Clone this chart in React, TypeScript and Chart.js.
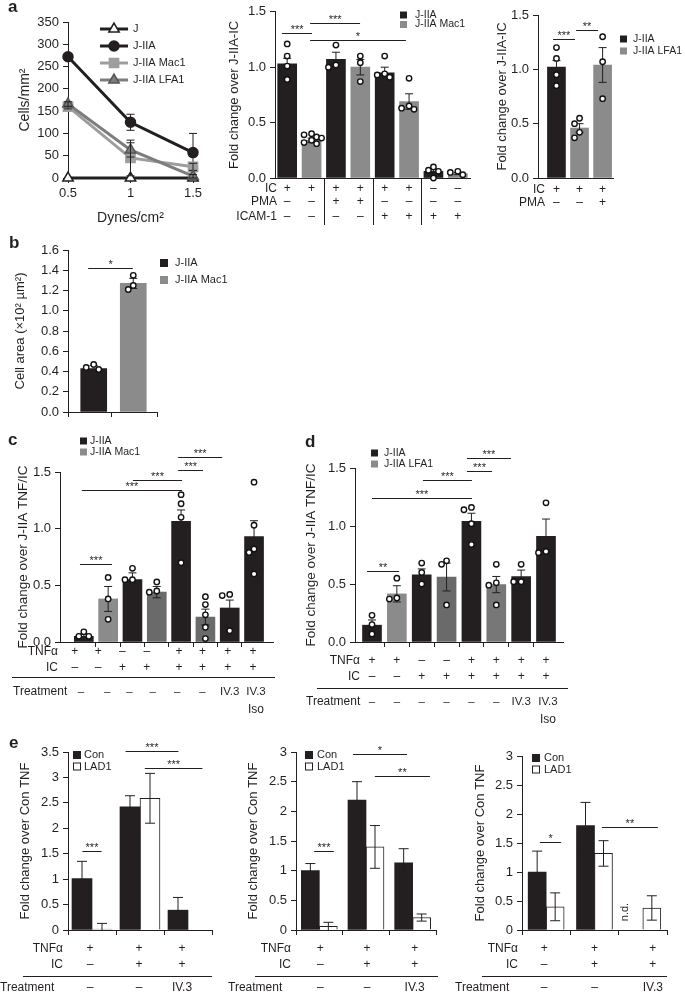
import { useEffect, useRef } from 'react';
import { Chart, registerables } from 'chart.js';

Chart.register(...registerables);

const PAGE_W = 685;
const PAGE_H = 995;
const FONT = "'Liberation Sans', Arial, Helvetica, sans-serif";
const INK = '#231f20';
const BLACK = '#231f20';
const GRAY = '#8b8b8b';
const MIDGRAY = '#777777';
const DARKGRAY = '#6a6a6a';
const LINE_MAC1 = '#9e9e9e';
const LINE_LFA1 = '#7d7d7d';

Chart.defaults.font.family = FONT;
Chart.defaults.color = INK;

/* ================= DATA ================= */

// ---- a (left): adhesion vs shear stress ----
const aShear = [0.5, 1, 1.5];
const aJ = [0, 0, 0];
const aJErr = [0, 0, 0];
const aJIIA = [272, 125, 57];
const aJIIAErr = [4, 18, 43];
const aMac1 = [160, 45, 25];
const aMac1Err = [5, 40, 8];
const aLFA1 = [166, 63, 4];
const aLFA1Err = [5, 16, 4];
const aYTicks = [0, 50, 100, 150, 200, 250, 300, 350];

// ---- a (middle): Mac1 ----
const a2Cells = ['J-IIA', 'J-IIA Mac1', 'J-IIA', 'J-IIA Mac1', 'J-IIA', 'J-IIA Mac1', 'J-IIA', 'J-IIA Mac1'];
const a2Mean = [1.03, 0.34, 1.07, 1.0, 0.95, 0.69, 0.06, 0.04];
const a2Sem = [0.05, 0.02, 0.065, 0.07, 0.05, 0.07, 0.02, 0.01];
const a2Dots = [
  [1.21, 1.1, 1.01, 0.89],
  [0.4, 0.39, 0.37, 0.36, 0.34, 0.32, 0.31],
  [1.2, 1.02, 1.0],
  [1.1, 1.04, 0.87],
  [1.1, 0.94, 0.93, 0.91],
  [0.9, 0.65, 0.63, 0.62],
  [0.1, 0.07, 0.06, 0.0],
  [0.06, 0.05, 0.03],
];
const a2IC = ['+', '+', '+', '+', '+', '+', '–', '–'];
const a2PMA = ['–', '–', '+', '+', '–', '–', '–', '–'];
const a2ICAM = ['–', '–', '–', '–', '+', '+', '+', '+'];
const a2Sig = [
  { from: -0.21, to: 1.02, y: 1.31, label: '***' },
  { from: 0.94, to: 2.99, y: 1.4, label: '***' },
  { from: 0.94, to: 4.87, y: 1.245, label: '*' },
];

// ---- a (right): LFA1 ----
const a3Cells = ['J-IIA', 'J-IIA LFA1', 'J-IIA LFA1'];
const a3Mean = [1.02, 0.46, 1.04];
const a3Sem = [0.06, 0.04, 0.16];
const a3Dots = [
  [1.2, 1.1, 0.95, 0.85],
  [0.55, 0.5, 0.42, 0.37],
  [1.3, 1.07, 0.73],
];
const a3IC = ['+', '+', '+'];
const a3PMA = ['–', '–', '+'];
const a3Sig = [
  { from: -0.15, to: 0.8, y: 1.28, label: '***' },
  { from: 0.85, to: 1.8, y: 1.36, label: '**' },
];

// ---- b: cell area ----
const bCells = ['J-IIA', 'J-IIA Mac1'];
const bMean = [0.43, 1.27];
const bSem = [0.03, 0.05];
const bDots = [
  [0.47, 0.44, 0.42],
  [1.35, 1.25, 1.21],
];
const bSig = [{ from: -0.14, to: 0.99, y: 1.42, label: '*' }];

// ---- c: Mac1 TNF ----
const cMean = [0.05, 0.38, 0.55, 0.44, 1.065, 0.22, 0.3, 0.93];
const cSem = [0.02, 0.11, 0.06, 0.05, 0.1, 0.07, 0.07, 0.14];
const cDots = [
  [0.09, 0.05, 0.05],
  [0.57, 0.38, 0.2],
  [0.65, 0.55, 0.55],
  [0.53, 0.45, 0.44],
  [1.3, 1.22, 1.1, 0.7],
  [0.4, 0.33, 0.24, 0.13, 0.03],
  [0.42, 0.41, 0.1],
  [1.41, 1.03, 0.82, 0.79, 0.6],
];
const cSig = [
  { from: -0.16, to: 1.16, y: 0.685, label: '***' },
  { from: -0.08, to: 4.04, y: 1.345, label: '***' },
  { from: 2.02, to: 4.04, y: 1.43, label: '***' },
  { from: 3.88, to: 4.9, y: 1.515, label: '***' },
  { from: 3.88, to: 5.69, y: 1.63, label: '***' },
];

// ---- d: LFA1 TNF ----
const dMean = [0.145, 0.415, 0.58, 0.56, 1.04, 0.495, 0.565, 0.91];
const dSem = [0.045, 0.07, 0.05, 0.12, 0.07, 0.07, 0.055, 0.15];
const dDots = [
  [0.23, 0.15, 0.07],
  [0.55, 0.38, 0.37],
  [0.68, 0.6, 0.5],
  [0.7, 0.67, 0.32],
  [1.16, 1.14, 1.02, 0.84],
  [0.67, 0.51, 0.49, 0.32],
  [0.67, 0.52, 0.52],
  [1.2, 0.78, 0.77],
];
const dSig = [
  { from: -0.2, to: 1.09, y: 0.612, label: '**' },
  { from: 0.0, to: 4.02, y: 1.244, label: '***' },
  { from: 2.05, to: 4.02, y: 1.394, label: '***' },
  { from: 3.82, to: 4.83, y: 1.474, label: '***' },
  { from: 3.82, to: 5.59, y: 1.59, label: '***' },
];
const cdTNF = ['+', '+', '–', '–', '+', '+', '+', '+'];
const cdIC = ['–', '–', '+', '+', '+', '+', '+', '+'];
const cdTreatment = ['–', '–', '–', '–', '–', '–', 'IV.3', 'IV.3'];
const cdTreatment2 = ['', '', '', '', '', '', '', 'Iso'];

// ---- e: Con vs LAD1 ----
const e1Con = [1.01, 2.42, 0.39];
const e1ConErr = [0.34, 0.22, 0.25];
const e1LAD = [0.02, 2.59, null];
const e1LADErr = [0.11, 0.49, null];
const e1Sig = [
  { from: -0.2, to: 0.2, y: 1.56, label: '***' },
  { from: 0.7, to: 1.8, y: 3.51, label: '***' },
  { from: 1.1, to: 2.3, y: 3.19, label: '***' },
];
const e2Con = [1.0, 2.19, 1.13];
const e2ConErr = [0.12, 0.31, 0.24];
const e2LAD = [0.06, 1.4, 0.21];
const e2LADErr = [0.07, 0.36, 0.06];
const e2Sig = [
  { from: -0.11, to: 0.31, y: 1.335, label: '***' },
  { from: 0.72, to: 1.88, y: 2.97, label: '*' },
  { from: 1.19, to: 2.37, y: 2.59, label: '**' },
];
const e3Con = [1.0, 1.8, null];
const e3ConErr = [0.36, 0.4, null];
const e3LAD = [0.4, 1.32, 0.38];
const e3LADErr = [0.24, 0.22, 0.21];
const e3Sig = [
  { from: -0.13, to: 0.31, y: 1.51, label: '*' },
  { from: 1.155, to: 2.31, y: 1.78, label: '**' },
];
const eTNF = ['+', '+', '+'];
const eIC = ['–', '+', '+'];
const eTreatment = ['–', '–', 'IV.3'];

/* ================= HELPERS ================= */

type Sig = { from: number; to: number; y: number; label: string };
type Row = { label?: string; labelX?: number; labelAlign?: CanvasTextAlign; y: number; values: string[]; dx?: number[]; valueFont?: number };
type LegendEntry = { label: string; fill: string; stroke?: string };
type Legend = { x: number; y: number; dy: number; size: number; textX: number; font: number; items: LegendEntry[] };
type Txt = { text: string; x: number; y: number; font: string; align?: CanvasTextAlign; baseline?: CanvasTextBaseline; rotate?: number };
type LineLegendEntry = { label: string; color: string; style: string; fill: string; stroke: string; r: number };
type LineLegend = { x1: number; x2: number; y: number; dy: number; textX: number; font: number; items: LineLegendEntry[] };
type Overlay = {
  sig?: Sig[];
  sigFont?: number;
  rows?: Row[];
  rowFont?: number;
  legend?: Legend;
  lineLegend?: LineLegend;
  texts?: Txt[];
  hlines?: number[][];
  vseps?: number[][];
  capW?: number;
};

type Frame = { l: number; t: number; r: number; b: number; yTitleX: number; xTitleY?: number; titleSize: number };

function frameLayout(f: Frame) {
  const lh = f.titleSize * 1.2;
  const left = f.yTitleX - lh / 2;
  const bottom = f.xTitleY != null ? f.xTitleY + lh / 2 : f.b + 8;
  return {
    padding: { left, top: f.t, right: PAGE_W - f.r, bottom: PAGE_H - bottom },
    yWidth: f.l - left,
    xHeight: bottom - f.b,
  };
}

function markerPath(ctx: CanvasRenderingContext2D, style: string, x: number, y: number, r: number) {
  ctx.beginPath();
  if (style === 'circle') {
    ctx.arc(x, y, r, 0, Math.PI * 2);
  } else if (style === 'rect') {
    const s = r * Math.SQRT1_2;
    ctx.rect(x - s, y - s, 2 * s, 2 * s);
  } else {
    let a = 0;
    ctx.moveTo(x + Math.sin(a) * r, y - Math.cos(a) * r);
    a += (Math.PI * 2) / 3;
    ctx.lineTo(x + Math.sin(a) * r, y - Math.cos(a) * r);
    a += (Math.PI * 2) / 3;
    ctx.lineTo(x + Math.sin(a) * r, y - Math.cos(a) * r);
    ctx.closePath();
  }
}

function overlayPlugin(o: Overlay) {
  return {
    id: 'figOverlay',
    afterDatasetDraw(chart: any, args: any) {
      const ds = chart.data.datasets[args.index];
      if (!ds || !ds.err) return;
      const ys = chart.scales.y;
      const ctx: CanvasRenderingContext2D = chart.ctx;
      const half = (o.capW ?? 8) / 2;
      ctx.save();
      ctx.strokeStyle = INK;
      ctx.lineWidth = 1;
      args.meta.data.forEach((el: any, i: number) => {
        const d = ds.data[i];
        const v = d == null ? null : typeof d === 'object' ? d.y : d;
        const e = ds.err[i];
        if (v == null || e == null || e === 0 || !Number.isFinite(el.x)) return;
        const yTop = ys.getPixelForValue(v + e);
        const lowV = v - e;
        const clamped = lowV < ys.min;
        const yBot = ys.getPixelForValue(clamped ? ys.min : lowV);
        ctx.beginPath();
        ctx.moveTo(el.x, yTop);
        ctx.lineTo(el.x, yBot);
        ctx.moveTo(el.x - half, yTop);
        ctx.lineTo(el.x + half, yTop);
        if (!clamped) {
          ctx.moveTo(el.x - half, yBot);
          ctx.lineTo(el.x + half, yBot);
        }
        ctx.stroke();
      });
      ctx.restore();
    },
    afterDraw(chart: any) {
      const ctx: CanvasRenderingContext2D = chart.ctx;
      const xs = chart.scales.x;
      const ys = chart.scales.y;
      ctx.save();
      ctx.strokeStyle = INK;
      ctx.fillStyle = INK;
      ctx.lineWidth = 1;
      // significance bars
      for (const s of o.sig ?? []) {
        const x1 = xs.getPixelForValue(s.from);
        const x2 = xs.getPixelForValue(s.to);
        const y = Math.round(ys.getPixelForValue(s.y)) + 0.5;
        ctx.beginPath();
        ctx.moveTo(x1, y);
        ctx.lineTo(x2, y);
        ctx.stroke();
        ctx.font = `${o.sigFont ?? 11}px ${FONT}`;
        ctx.textAlign = 'center';
        ctx.textBaseline = 'alphabetic';
        ctx.fillText(s.label, (x1 + x2) / 2, y - 1);
      }
      // horizontal rules (pixels)
      for (const h of o.hlines ?? []) {
        ctx.beginPath();
        ctx.moveTo(h[0], h[2] + 0.5);
        ctx.lineTo(h[1], h[2] + 0.5);
        ctx.stroke();
      }
      // vertical separators (data x, pixel y range)
      for (const v of o.vseps ?? []) {
        const x = Math.round(xs.getPixelForValue(v[0])) + 0.5;
        ctx.beginPath();
        ctx.moveTo(x, v[1]);
        ctx.lineTo(x, v[2]);
        ctx.stroke();
      }
      // condition rows
      for (const r of o.rows ?? []) {
        ctx.textBaseline = 'middle';
        if (r.label) {
          ctx.font = `${o.rowFont ?? 12}px ${FONT}`;
          ctx.textAlign = r.labelAlign ?? 'right';
          ctx.fillText(r.label, r.labelX ?? 0, r.y);
        }
        ctx.font = `${r.valueFont ?? o.rowFont ?? 12}px ${FONT}`;
        ctx.textAlign = 'center';
        r.values.forEach((val, i) => {
          if (val) ctx.fillText(val, xs.getPixelForValue(i) + (r.dx ? r.dx[i] ?? 0 : 0), r.y);
        });
      }
      // box legend
      if (o.legend) {
        const L = o.legend;
        ctx.font = `${L.font}px ${FONT}`;
        ctx.textAlign = 'left';
        ctx.textBaseline = 'middle';
        L.items.forEach((it, i) => {
          const cy = L.y + i * L.dy;
          ctx.fillStyle = it.fill;
          ctx.fillRect(L.x, cy - L.size / 2, L.size, L.size);
          if (it.stroke) {
            ctx.strokeStyle = it.stroke;
            ctx.strokeRect(L.x + 0.5, cy - L.size / 2 + 0.5, L.size - 1, L.size - 1);
          }
          ctx.fillStyle = INK;
          ctx.fillText(it.label, L.textX, cy);
        });
      }
      // line legend
      if (o.lineLegend) {
        const L = o.lineLegend;
        ctx.font = `${L.font}px ${FONT}`;
        ctx.textAlign = 'left';
        ctx.textBaseline = 'middle';
        L.items.forEach((it, i) => {
          const cy = L.y + i * L.dy;
          ctx.strokeStyle = it.color;
          ctx.lineWidth = 3;
          ctx.beginPath();
          ctx.moveTo(L.x1, cy);
          ctx.lineTo(L.x2, cy);
          ctx.stroke();
          markerPath(ctx, it.style, (L.x1 + L.x2) / 2, cy, it.r);
          ctx.fillStyle = it.fill;
          ctx.fill();
          ctx.lineWidth = 1.5;
          ctx.strokeStyle = it.stroke;
          ctx.stroke();
          ctx.fillStyle = INK;
          ctx.fillText(it.label, L.textX, cy);
        });
      }
      // free texts
      for (const t of o.texts ?? []) {
        ctx.save();
        ctx.font = t.font;
        ctx.fillStyle = INK;
        ctx.textAlign = t.align ?? 'left';
        ctx.textBaseline = t.baseline ?? 'alphabetic';
        ctx.translate(t.x, t.y);
        if (t.rotate) ctx.rotate(t.rotate);
        ctx.fillText(t.text, 0, 0);
        ctx.restore();
      }
      ctx.restore();
    },
  };
}

function swarm(groups: number[][], pxX: number, pxY: number) {
  const out: { x: number; y: number }[] = [];
  const cands = [0, -5, 5, -2.5, 2.5, -7.5, 7.5, -10, 10];
  groups.forEach((vals, gi) => {
    const placed: { px: number; py: number }[] = [];
    [...vals]
      .sort((a, b) => b - a)
      .forEach((v) => {
        const py = v * pxY;
        let chosen = cands[cands.length - 1];
        for (const c of cands) {
          if (placed.every((p) => Math.hypot(p.px - c, p.py - py) >= 6)) {
            chosen = c;
            break;
          }
        }
        placed.push({ px: chosen, py });
        out.push({ x: gi + chosen / pxX, y: v });
      });
  });
  return out;
}

function range(max: number, step: number) {
  const out: number[] = [];
  for (let v = 0; v <= max + 1e-9; v += step) out.push(Math.round(v * 1000) / 1000);
  return out;
}

type Panel = {
  frame: Frame;
  xMin: number;
  xMax: number;
  xTicks: number[];
  xLabels?: (v: number) => string;
  xTitle?: string;
  yMax: number;
  yTicks: number[];
  yFmt: (v: number) => string;
  yTitle: string;
  tickFont: number;
};

function chartOptions(p: Panel) {
  const L = frameLayout(p.frame);
  const tickGrid = { display: true, offset: false, drawOnChartArea: false, drawTicks: true, tickLength: 5, color: INK, lineWidth: 1 };
  return {
    responsive: false,
    animation: false,
    events: [],
    layout: { padding: L.padding, autoPadding: false },
    plugins: { legend: { display: false }, tooltip: { enabled: false }, title: { display: false } },
    scales: {
      x: {
        type: 'linear',
        offset: false,
        min: p.xMin,
        max: p.xMax,
        afterBuildTicks: (s: any) => {
          s.ticks = p.xTicks.map((v) => ({ value: v }));
        },
        afterFit: (s: any) => {
          s.height = L.xHeight;
        },
        ticks: {
          callback: (v: any) => (p.xLabels ? p.xLabels(Number(v)) : ''),
          font: { size: p.tickFont },
          color: INK,
          padding: 3,
          maxRotation: 0,
          autoSkip: false,
        },
        grid: tickGrid,
        border: { display: true, color: INK, width: 1 },
        title: p.xTitle
          ? { display: true, text: p.xTitle, font: { size: p.frame.titleSize }, color: INK, padding: 0 }
          : { display: false },
      },
      y: {
        type: 'linear',
        offset: false,
        min: 0,
        max: p.yMax,
        afterBuildTicks: (s: any) => {
          s.ticks = p.yTicks.map((v) => ({ value: v }));
        },
        afterFit: (s: any) => {
          s.width = L.yWidth;
        },
        ticks: { callback: (v: any) => p.yFmt(Number(v)), font: { size: p.tickFont }, color: INK, padding: 4, autoSkip: false },
        grid: tickGrid,
        border: { display: true, color: INK, width: 1 },
        title: { display: true, text: p.yTitle, font: { size: p.frame.titleSize }, color: INK, padding: 0 },
      },
    },
  };
}

function dotDataset(groups: number[][], p: Panel) {
  const pxX = (p.frame.r - p.frame.l) / (p.xMax - p.xMin);
  const pxY = (p.frame.b - p.frame.t) / p.yMax;
  return {
    type: 'scatter',
    order: 0,
    data: swarm(groups, pxX, pxY),
    pointRadius: 2.7,
    pointBorderWidth: 1.4,
    pointBackgroundColor: '#ffffff',
    pointBorderColor: '#111111',
    clip: false,
  };
}

function barsFromMeans(mean: number[], sem: number[], colors: string[], thickness: number) {
  return {
    type: 'bar',
    order: 1,
    data: mean.map((v, i) => ({ x: i, y: v })),
    err: sem,
    backgroundColor: colors,
    borderWidth: 0,
    barThickness: thickness,
    clip: false,
  };
}

const cellColor = (c: string) => (c === 'J-IIA' ? BLACK : GRAY);
const fix1 = (v: number) => v.toFixed(1);
const plain = (v: number) => String(Math.round(v * 100) / 100);
const letter = (t: string, x: number, y: number): Txt => ({ text: t, x, y, font: `bold 17px ${FONT}` });

/* ================= CHART BUILDERS ================= */

function buildA1(canvas: HTMLCanvasElement) {
  const p: Panel = {
    frame: { l: 68, t: 22, r: 193, b: 178, yTitleX: 25, xTitleY: 218, titleSize: 14 },
    xMin: 0.5,
    xMax: 1.5,
    xTicks: aShear,
    xLabels: (v) => String(v),
    xTitle: 'Dynes/cm²',
    yMax: 350,
    yTicks: aYTicks,
    yFmt: (v) => String(v),
    yTitle: 'Cells/mm²',
    tickFont: 13,
  };
  const line = (label: string, ys: number[], err: number[], color: string, style: string, fill: string, stroke: string, r: number) => ({
    label,
    data: ys.map((y, i) => ({ x: aShear[i], y })),
    err,
    borderColor: color,
    borderWidth: 3,
    pointStyle: style,
    pointRadius: r,
    pointBackgroundColor: fill,
    pointBorderColor: stroke,
    pointBorderWidth: 1.5,
    tension: 0,
    clip: false,
  });
  const overlay: Overlay = {
    capW: 8,
    lineLegend: {
      x1: 100,
      x2: 128,
      y: 29,
      dy: 17,
      textX: 133,
      font: 11,
      items: [
        { label: 'J', color: BLACK, style: 'triangle', fill: '#ffffff', stroke: BLACK, r: 6 },
        { label: 'J-IIA', color: BLACK, style: 'circle', fill: BLACK, stroke: BLACK, r: 5 },
        { label: 'J-IIA Mac1', color: LINE_MAC1, style: 'rect', fill: LINE_MAC1, stroke: LINE_MAC1, r: 6.5 },
        { label: 'J-IIA LFA1', color: LINE_LFA1, style: 'triangle', fill: LINE_LFA1, stroke: '#555555', r: 6 },
      ],
    },
    texts: [letter('a', 8, 12)],
  };
  return new Chart(canvas, {
    type: 'line',
    data: {
      datasets: [
        line('J-IIA LFA1', aLFA1, aLFA1Err, LINE_LFA1, 'triangle', LINE_LFA1, '#555555', 6),
        line('J-IIA Mac1', aMac1, aMac1Err, LINE_MAC1, 'rect', LINE_MAC1, LINE_MAC1, 6.5),
        line('J-IIA', aJIIA, aJIIAErr, BLACK, 'circle', BLACK, BLACK, 5),
        line('J', aJ, aJErr, BLACK, 'triangle', '#ffffff', BLACK, 6),
      ] as any,
    },
    options: chartOptions(p) as any,
    plugins: [overlayPlugin(overlay)],
  });
}

function buildA2(canvas: HTMLCanvasElement) {
  const p: Panel = {
    frame: { l: 275, t: 11, r: 470, b: 178, yTitleX: 234, titleSize: 13 },
    xMin: -0.5,
    xMax: 7.5,
    xTicks: [],
    yMax: 1.5,
    yTicks: range(1.5, 0.5),
    yFmt: fix1,
    yTitle: 'Fold change over J-IIA-IC',
    tickFont: 13,
  };
  const overlay: Overlay = {
    sig: a2Sig,
    rows: [
      { label: 'IC', labelX: 277, y: 189, values: a2IC },
      { label: 'PMA', labelX: 277, y: 202, values: a2PMA },
      { label: 'ICAM-1', labelX: 277, y: 217, values: a2ICAM },
    ],
    vseps: [
      [1.5, 178, 225],
      [3.5, 178, 225],
      [5.5, 178, 225],
    ],
    legend: {
      x: 400,
      y: 15,
      dy: 9.5,
      size: 7,
      textX: 415,
      font: 10.5,
      items: [
        { label: 'J-IIA', fill: BLACK },
        { label: 'J-IIA Mac1', fill: GRAY },
      ],
    },
  };
  return new Chart(canvas, {
    type: 'bar',
    data: { datasets: [dotDataset(a2Dots, p), barsFromMeans(a2Mean, a2Sem, a2Cells.map(cellColor), 19)] as any },
    options: chartOptions(p) as any,
    plugins: [overlayPlugin(overlay)],
  });
}

function buildA3(canvas: HTMLCanvasElement) {
  const p: Panel = {
    frame: { l: 538, t: 15, r: 613, b: 178, yTitleX: 502, titleSize: 13 },
    xMin: -0.8,
    xMax: 2.45,
    xTicks: [],
    yMax: 1.5,
    yTicks: range(1.5, 0.5),
    yFmt: fix1,
    yTitle: 'Fold change over J-IIA-IC',
    tickFont: 13,
  };
  const overlay: Overlay = {
    sig: a3Sig,
    rows: [
      { label: 'IC', labelX: 545, y: 190, values: a3IC },
      { label: 'PMA', labelX: 545, y: 203, values: a3PMA },
    ],
    legend: {
      x: 620,
      y: 39,
      dy: 12,
      size: 7,
      textX: 633,
      font: 10.5,
      items: [
        { label: 'J-IIA', fill: BLACK },
        { label: 'J-IIA LFA1', fill: GRAY },
      ],
    },
  };
  return new Chart(canvas, {
    type: 'bar',
    data: { datasets: [dotDataset(a3Dots, p), barsFromMeans(a3Mean, a3Sem, a3Cells.map(cellColor), 18)] as any },
    options: chartOptions(p) as any,
    plugins: [overlayPlugin(overlay)],
  });
}

function buildB(canvas: HTMLCanvasElement) {
  const p: Panel = {
    frame: { l: 68, t: 250, r: 157, b: 412, yTitleX: 20, titleSize: 13 },
    xMin: -0.65,
    xMax: 1.6,
    xTicks: [-0.65, 0.45, 1.6],
    yMax: 1.6,
    yTicks: range(1.6, 0.2),
    yFmt: fix1,
    yTitle: 'Cell area (×10² µm²)',
    tickFont: 13,
  };
  const overlay: Overlay = {
    sig: bSig,
    legend: {
      x: 160,
      y: 263,
      dy: 17,
      size: 8,
      textX: 175,
      font: 11,
      items: [
        { label: 'J-IIA', fill: BLACK },
        { label: 'J-IIA Mac1', fill: GRAY },
      ],
    },
    texts: [letter('b', 9, 248)],
  };
  return new Chart(canvas, {
    type: 'bar',
    data: { datasets: [dotDataset(bDots, p), barsFromMeans(bMean, bSem, bCells.map(cellColor), 26)] as any },
    options: chartOptions(p) as any,
    plugins: [overlayPlugin(overlay)],
  });
}

type CDRows = {
  tnfY: number;
  icY: number;
  trY: number;
  isoY: number;
  labelRight: number;
  trX: number;
  rule: number[];
  symDx: number[];
  trDx: number[];
};

function buildCD(
  canvas: HTMLCanvasElement,
  frame: Frame,
  xMin: number,
  xMax: number,
  mean: number[],
  sem: number[],
  dots: number[][],
  sig: Sig[],
  shades: string[],
  partner: string,
  rowsLayout: CDRows,
  legendAt: { x: number; y: number; textX: number },
  panelLetter: Txt
) {
  const p: Panel = {
    frame,
    xMin,
    xMax,
    xTicks: [0.5, 1.5, 2.5, 3.5, 4.5, 5.5, 6.5],
    yMax: 1.5,
    yTicks: range(1.5, 0.5),
    yFmt: fix1,
    yTitle: 'Fold change over J-IIA TNF/IC',
    tickFont: 13,
  };
  const overlay: Overlay = {
    sig,
    sigFont: 11,
    rows: [
      { label: 'TNFα', labelX: rowsLayout.labelRight, y: rowsLayout.tnfY, values: cdTNF, dx: rowsLayout.symDx },
      { label: 'IC', labelX: rowsLayout.labelRight, y: rowsLayout.icY, values: cdIC, dx: rowsLayout.symDx },
      {
        label: 'Treatment',
        labelX: rowsLayout.trX,
        labelAlign: 'left',
        y: rowsLayout.trY,
        values: cdTreatment,
        valueFont: 11.5,
        dx: rowsLayout.trDx,
      },
      { y: rowsLayout.isoY, values: cdTreatment2, dx: rowsLayout.trDx },
    ],
    hlines: [rowsLayout.rule],
    legend: {
      x: legendAt.x,
      y: legendAt.y,
      dy: 11,
      size: 7,
      textX: legendAt.textX,
      font: 10.5,
      items: [
        { label: 'J-IIA', fill: BLACK },
        { label: partner, fill: GRAY },
      ],
    },
    texts: [panelLetter],
  };
  return new Chart(canvas, {
    type: 'bar',
    data: { datasets: [dotDataset(dots, p), barsFromMeans(mean, sem, shades, 19)] as any },
    options: chartOptions(p) as any,
    plugins: [overlayPlugin(overlay)],
  });
}

const cShades = [BLACK, GRAY, BLACK, DARKGRAY, BLACK, DARKGRAY, BLACK, BLACK];
const dShades = [BLACK, GRAY, BLACK, DARKGRAY, BLACK, MIDGRAY, BLACK, BLACK];

function buildC(canvas: HTMLCanvasElement) {
  return buildCD(
    canvas,
    { l: 60, t: 472, r: 273, b: 642, yTitleX: 23, titleSize: 13.5 },
    -0.98,
    7.78,
    cMean,
    cSem,
    cDots,
    cSig,
    cShades,
    'J-IIA Mac1',
    {
      tnfY: 652,
      icY: 668,
      trY: 692,
      isoY: 710,
      labelRight: 58,
      trX: 13,
      rule: [12, 275, 677],
      symDx: [-9, -10, -10, -10, -2, -3, -2, -1],
      trDx: [-3, -1, -3, -4, -4, -3, 0, 2],
    },
    { x: 80, y: 441, textX: 90 },
    letter('c', 8, 445)
  );
}

function buildD(canvas: HTMLCanvasElement) {
  return buildCD(
    canvas,
    { l: 355, t: 468, r: 563, b: 642, yTitleX: 311, titleSize: 13.5 },
    -0.684,
    7.684,
    dMean,
    dSem,
    dDots,
    dSig,
    dShades,
    'J-IIA LFA1',
    {
      tnfY: 661,
      icY: 677,
      trY: 702,
      isoY: 720,
      labelRight: 360,
      trX: 306,
      rule: [317, 568, 688],
      symDx: [0, 0, 0, 0, 0, 0, 0, 0],
      trDx: [0, 0, 0, 0, 0, 0, 0, 2],
    },
    { x: 371, y: 453, textX: 384 },
    letter('d', 305, 447)
  );
}

function buildE(
  canvas: HTMLCanvasElement,
  frame: Frame,
  yMax: number,
  con: (number | null)[],
  conErr: (number | null)[],
  lad: (number | null)[],
  ladErr: (number | null)[],
  sig: Sig[],
  thickness: number,
  rowsLayout: { labelRight: number; trX: number; rule: number[]; dx: number[] },
  legendAt: { x: number; y: number; textX: number },
  extraTexts: Txt[]
) {
  const p: Panel = {
    frame,
    xMin: -0.5,
    xMax: 2.5,
    xTicks: [-0.5, 0.5, 1.5, 2.5],
    yMax,
    yTicks: range(yMax, 0.5),
    yFmt: plain,
    yTitle: 'Fold change over Con TNF',
    tickFont: 13,
  };
  const overlay: Overlay = {
    sig,
    sigFont: 11,
    capW: 10,
    rows: [
      { label: 'TNFα', labelX: rowsLayout.labelRight, y: 949, values: eTNF, dx: rowsLayout.dx },
      { label: 'IC', labelX: rowsLayout.labelRight, y: 965, values: eIC, dx: rowsLayout.dx },
      { label: 'Treatment', labelX: rowsLayout.trX, labelAlign: 'left', y: 988, values: eTreatment, dx: rowsLayout.dx },
    ],
    hlines: [rowsLayout.rule],
    legend: {
      x: legendAt.x,
      y: legendAt.y,
      dy: 11.5,
      size: 8,
      textX: legendAt.textX,
      font: 11,
      items: [
        { label: 'Con', fill: BLACK },
        { label: 'LAD1', fill: '#ffffff', stroke: INK },
      ],
    },
    texts: extraTexts,
  };
  const ds = (vals: (number | null)[], err: (number | null)[], fill: string, border: number) => ({
    type: 'bar',
    order: 1,
    data: vals.map((v, i) => ({ x: i, y: v })),
    err,
    backgroundColor: fill,
    borderColor: INK,
    borderWidth: border,
    barThickness: thickness,
    clip: false,
  });
  return new Chart(canvas, {
    type: 'bar',
    data: { datasets: [ds(con, conErr, BLACK, 0), ds(lad, ladErr, '#ffffff', 1)] as any },
    options: chartOptions(p) as any,
    plugins: [overlayPlugin(overlay)],
  });
}

function buildE1(canvas: HTMLCanvasElement) {
  return buildE(
    canvas,
    { l: 68, t: 752, r: 212, b: 930, yTitleX: 25, titleSize: 13 },
    3.5,
    e1Con,
    e1ConErr,
    e1LAD,
    e1LADErr,
    e1Sig,
    20,
    { labelRight: 63, trX: 0, rule: [23, 212, 976], dx: [-2, -1, -6] },
    { x: 73, y: 755, textX: 84 },
    [letter('e', 9, 748)]
  );
}

function buildE2(canvas: HTMLCanvasElement) {
  return buildE(
    canvas,
    { l: 296, t: 752, r: 436, b: 930, yTitleX: 253, titleSize: 13 },
    3,
    e2Con,
    e2ConErr,
    e2LAD,
    e2LADErr,
    e2Sig,
    18,
    { labelRight: 291, trX: 228, rule: [255, 438, 976], dx: [1, 1, 2] },
    { x: 305, y: 755, textX: 317 },
    []
  );
}

function buildE3(canvas: HTMLCanvasElement) {
  return buildE(
    canvas,
    { l: 522, t: 756, r: 667, b: 930, yTitleX: 480, titleSize: 13 },
    3,
    e3Con,
    e3ConErr,
    e3LAD,
    e3LADErr,
    e3Sig,
    18,
    { labelRight: 518, trX: 455, rule: [482, 667, 976], dx: [-2, 0, 10] },
    { x: 532, y: 758, textX: 544 },
    [{ text: 'n.d.', x: 625, y: 912, font: `11px ${FONT}`, align: 'center', baseline: 'middle', rotate: -Math.PI / 2 }]
  );
}

const builders = [buildA1, buildA2, buildA3, buildB, buildC, buildD, buildE1, buildE2, buildE3];

function ChartCanvas({ make }: { make: (c: HTMLCanvasElement) => Chart }) {
  const ref = useRef<HTMLCanvasElement>(null);
  useEffect(() => {
    if (!ref.current) return;
    const ch = make(ref.current);
    return () => ch.destroy();
  }, [make]);
  return (
    <canvas
      ref={ref}
      width={PAGE_W}
      height={PAGE_H}
      style={{ position: 'absolute', left: 0, top: 0, width: PAGE_W, height: PAGE_H }}
    />
  );
}

export default function App() {
  return (
    <div style={{ position: 'absolute', left: 0, top: 0, width: PAGE_W, height: PAGE_H, background: '#ffffff', overflow: 'hidden' }}>
      {builders.map((b, i) => (
        <ChartCanvas key={i} make={b} />
      ))}
    </div>
  );
}
